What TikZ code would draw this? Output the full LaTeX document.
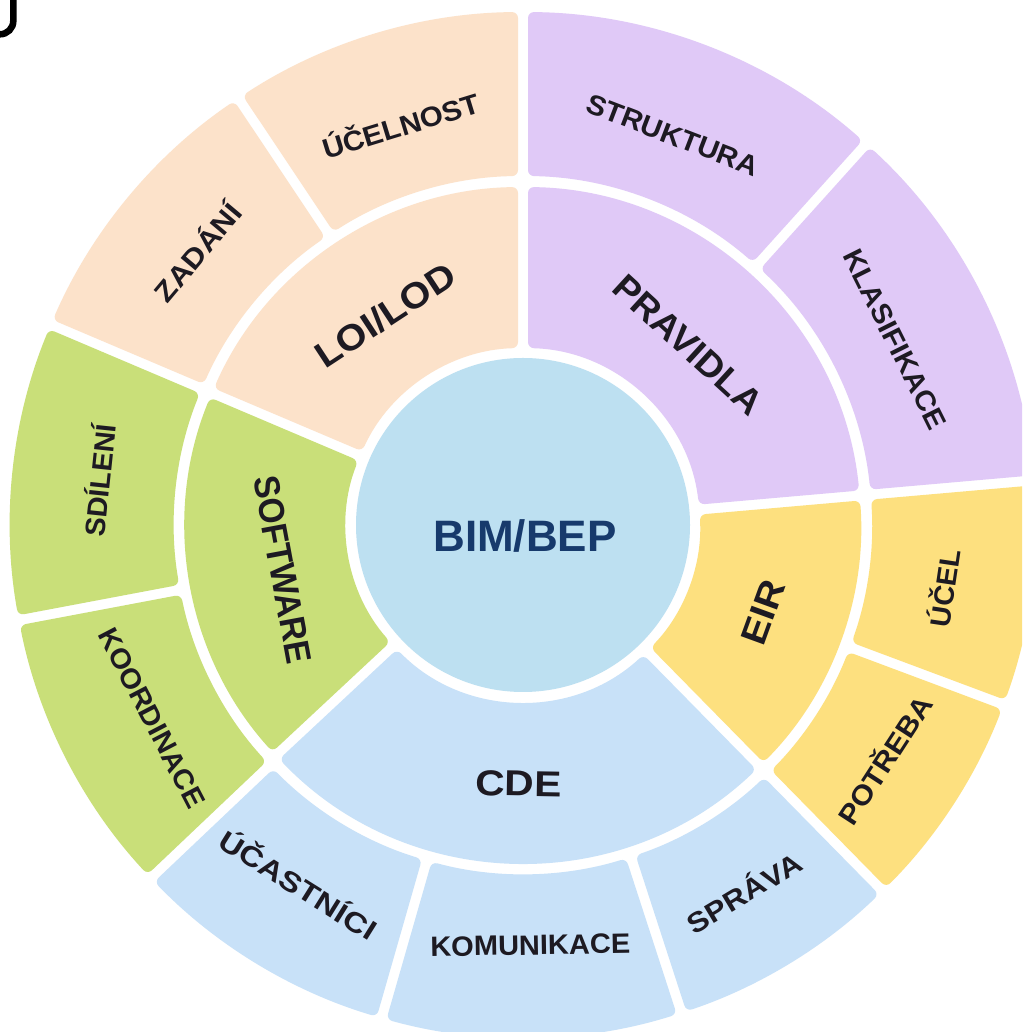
\documentclass[tikz,border=0pt]{standalone}
\usepackage{fontspec}
\setmainfont{Liberation Sans}
\usepackage{graphicx}
\definecolor{peach}{HTML}{FCE2CA}
\definecolor{lilac}{HTML}{E0C9F7}
\definecolor{sun}{HTML}{FDE07F}
\definecolor{sky}{HTML}{C8E1F8}
\definecolor{leaf}{HTML}{C9DF79}
\definecolor{centerfill}{HTML}{BDE0F1}
\definecolor{labtext}{HTML}{1D1A22}
\definecolor{centertext}{HTML}{173A6C}
\newcommand{\segGap}{5}
\newcommand{\ringseg}[5]{%
  \pgfmathsetmacro{\segOA}{#2+asin(\segGap/#5)}%
  \pgfmathsetmacro{\segOB}{#3-asin(\segGap/#5)}%
  \pgfmathsetmacro{\segIA}{#2+asin(\segGap/#4)}%
  \pgfmathsetmacro{\segIB}{#3-asin(\segGap/#4)}%
  \fill[#1, rounded corners=6pt] (\segOA:#5pt) arc[start angle=\segOA, end angle=\segOB, radius=#5pt]
    -- (\segIB:#4pt) arc[start angle=\segIB, end angle=\segIA, radius=#4pt] -- cycle;%
}
\begin{document}
\begin{tikzpicture}[x=1pt,y=1pt,
  olab/.style={font=\bfseries\fontsize{28}{28}\selectfont, text=labtext, inner sep=0pt, text height=20pt, text depth=0pt},
  ilab/.style={font=\bfseries\fontsize{36}{36}\selectfont, text=labtext, inner sep=0pt, text height=25.8pt, text depth=0pt}]
\clip (0,0) rectangle (1022,1032);
\fill[white] (0,0) rectangle (1022,1032);
\coordinate (jtop) at (13.3,1040);
\coordinate (jend) at (-8,997.7);
\draw[line width=6.6pt] (jtop) -- (13.3,1011) arc[start angle=0, end angle=-90, radius=13.3pt] -- (jend);
\begin{scope}[shift={(523,507)}]
% inner ring
\ringseg{peach}{90}{157}{177}{338}
\ringseg{lilac}{5}{90}{177}{338}
\ringseg{sun}{-45.5}{5}{177}{338}
\ringseg{sky}{-137}{-45.5}{177}{338}
\ringseg{leaf}{157}{223}{177}{338}
% outer ring
\ringseg{peach}{90}{123.7}{349}{513}
\ringseg{peach}{123.7}{157}{349}{513}
\ringseg{leaf}{157}{190.7}{349}{513}
\ringseg{leaf}{190.7}{223.5}{349}{513}
\ringseg{sky}{223.5}{254}{349}{513}
\ringseg{sky}{-106}{-72}{349}{513}
\ringseg{sky}{-72}{-45.5}{349}{513}
\ringseg{sun}{-45.5}{-20.5}{349}{513}
\ringseg{sun}{-20.5}{5}{349}{513}
\ringseg{lilac}{5}{48}{349}{513}
\ringseg{lilac}{48}{90}{349}{513}
% center
\node[circle, fill=centerfill, minimum size=334pt, inner sep=0pt] (hub) at (0,0) {};
\node[font=\bfseries\fontsize{44}{44}\selectfont, text=centertext, anchor=base, inner sep=0pt] (bim) at (2,-27) {BIM/BEP};
% inner labels
\node[ilab, rotate=33.3] (loi) at (123.3:251pt) {\resizebox{160pt}{\height}{LOI/LOD}};
\node[ilab, rotate=-42.5] (prav) at (47.5:245pt) {\resizebox{188pt}{\height}{PRAVIDLA}};
\node[ilab, rotate=70] (eir) at (-20:255pt) {\resizebox{66pt}{\height}{EIR}};
\node[ilab, rotate=-1] (cde) at (-91:258pt) {\resizebox{86pt}{\height}{CDE}};
\node[ilab, rotate=280.5] (soft) at (190.5:244pt) {\resizebox{190pt}{\height}{SOFTWARE}};
% outer labels
\node[olab, rotate=17] (ucelnost) at (107:417pt) {\resizebox{163pt}{\height}{ÚČELNOST}};
\node[olab, rotate=50] (zadani) at (140:424pt) {\resizebox{118pt}{\height}{ZADÁNÍ}};
\node[olab, rotate=84] (sdileni) at (174:425pt) {\resizebox{113pt}{\height}{SDÍLENÍ}};
\node[olab, rotate=297.5] (koord) at (207.5:418pt) {\resizebox{199pt}{\height}{KOORDINACE}};
\node[olab, rotate=328] (ucast) at (238:425pt) {\resizebox{180pt}{\height}{ÚČASTNÍCI}};
\node[olab, rotate=1] (komu) at (-89:420pt) {\resizebox{200pt}{\height}{KOMUNIKACE}};
\node[olab, rotate=31] (sprava) at (-59:430pt) {\resizebox{128pt}{\height}{SPRÁVA}};
\node[olab, rotate=57] (potreba) at (-33:432pt) {\resizebox{148pt}{\height}{POTŘEBA}};
\node[olab, rotate=81.5] (ucel) at (-8.5:427pt) {\resizebox{78pt}{\height}{ÚČEL}};
\node[olab, rotate=-63.5] (klas) at (26.5:416pt) {\resizebox{197pt}{\height}{KLASIFIKACE}};
\node[olab, rotate=-21] (strukt) at (69:418pt) {\resizebox{182pt}{\height}{STRUKTURA}};
\end{scope}
\end{tikzpicture}
\end{document}
